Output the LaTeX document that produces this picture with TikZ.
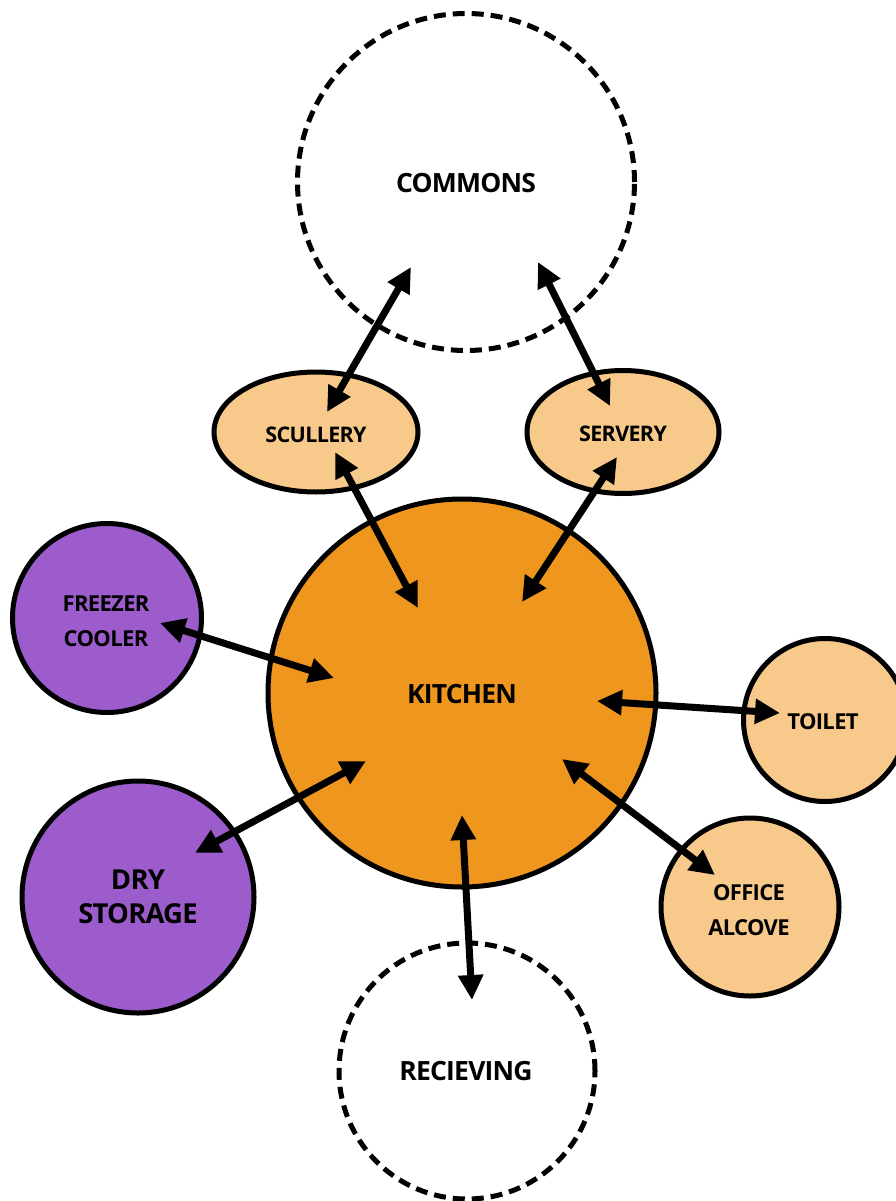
\documentclass[tikz,border=0pt]{standalone}
\usepackage{fontspec}
\setmainfont{Open Sans}[LetterSpace=-3]
\usetikzlibrary{arrows.meta,shapes.geometric}
\definecolor{kitchenor}{HTML}{EF961E}
\definecolor{lightor}{HTML}{F7C98B}
\definecolor{purp}{HTML}{9C5CCB}
\tikzset{
  room/.style={draw=black, line width=5pt, align=center, font=\bfseries, inner sep=0pt},
  dashroom/.style={room, line width=5pt, dash pattern=on 12pt off 7pt},
  biarrow/.style={line width=7pt, {Triangle[length=25pt,width=24pt]}-{Triangle[length=25pt,width=24pt]}},
  lbl/.style={font=\bfseries, align=center}
}
\begin{document}
\begin{tikzpicture}[x=1pt,y=-1pt]
\useasboundingbox (0,0) rectangle (896,1201);
% rooms
\node[dashroom, circle, minimum size=337pt] (commons) at (466,182) {};
\node[dashroom, circle, minimum size=256pt] (recv) at (467,1071) {};
\node[room, ellipse, fill=lightor, minimum width=204pt, minimum height=120pt] (scullery) at (316,432) {};
\node[room, ellipse, fill=lightor, minimum width=192pt, minimum height=123pt] (servery) at (623,432) {};
\node[room, circle, fill=kitchenor, minimum size=388pt] (kitchen) at (462,693) {};
\node[room, circle, fill=purp, minimum size=189pt] (freezer) at (107,618) {};
\node[room, circle, fill=purp, minimum size=232pt] (dry) at (138,897) {};
\node[room, circle, fill=lightor, minimum size=163pt] (toilet) at (825,720) {};
\node[room, circle, fill=lightor, minimum size=178pt] (office) at (750,907) {};
% labels
\node[lbl, font=\fontsize{26.5}{30}\bfseries] (tcommons) at (466,183) {COMMONS};
\node[lbl, font=\fontsize{26.5}{30}\bfseries] (trecv) at (466,1071) {RECIEVING};
\node[lbl, font=\fontsize{26.5}{30}\bfseries] (tkitchen) at (462,694) {KITCHEN};
\node[lbl, font=\fontsize{21.5}{25}\bfseries] (tscullery) at (316,435) {SCULLERY};
\node[lbl, font=\fontsize{21.5}{25}\bfseries] (tservery) at (623,434) {SERVERY};
\node[lbl, font=\fontsize{22}{35}\bfseries] (tfreezer) at (106,621) {FREEZER\\COOLER};
\node[lbl, font=\fontsize{27.5}{34}\bfseries] (tdry) at (138,897) {DRY\\STORAGE};
\node[lbl, font=\fontsize{22}{25}\bfseries] (ttoilet) at (823,722) {TOILET};
\node[lbl, font=\fontsize{22}{35}\bfseries] (toffice) at (749,910) {OFFICE\\ALCOVE};
% arrow end points
\coordinate (c1a) at (411,267); \coordinate (c1b) at (327,412);
\coordinate (c2a) at (538,262); \coordinate (c2b) at (610,406);
\coordinate (s1a) at (335,452); \coordinate (s1b) at (418,608);
\coordinate (v1a) at (617,457); \coordinate (v1b) at (522,602);
\coordinate (f1a) at (160,623); \coordinate (f1b) at (334,678);
\coordinate (d1a) at (195,853); \coordinate (d1b) at (366,761);
\coordinate (t1a) at (597,701); \coordinate (t1b) at (780,713);
\coordinate (o1a) at (562,759); \coordinate (o1b) at (715,875);
\coordinate (r1a) at (462,815); \coordinate (r1b) at (472,1000);
% connectors
\draw[biarrow] (c1a) -- (c1b);
\draw[biarrow] (c2a) -- (c2b);
\draw[biarrow] (s1a) -- (s1b);
\draw[biarrow] (v1a) -- (v1b);
\draw[biarrow] (f1a) -- (f1b);
\draw[biarrow] (d1a) -- (d1b);
\draw[biarrow] (t1a) -- (t1b);
\draw[biarrow] (o1a) -- (o1b);
\draw[biarrow] (r1a) -- (r1b);
\end{tikzpicture}
\end{document}
